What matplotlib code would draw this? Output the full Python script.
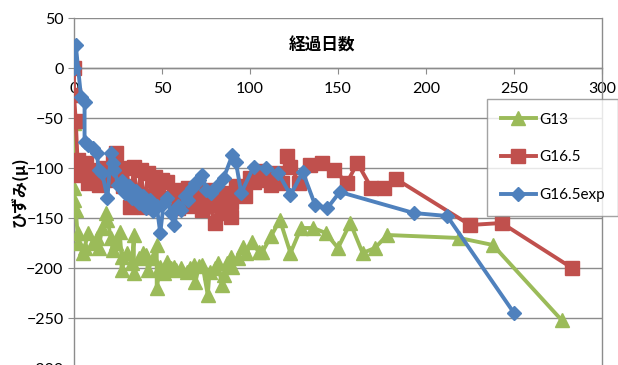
import matplotlib.pyplot as plt

# G13
g13_dias = [0, 0, 0, 1, 2, 2, 5, 6, 8, 11, 13, 14, 16, 18, 19, 21, 22, 24, 26, 27,
            27, 30, 33, 34, 34, 37, 39, 41, 42, 45, 47, 47, 49, 51, 53, 55, 57, 58, 61, 64,
            66, 68, 69, 71, 73, 76, 77, 80, 82, 84, 85, 87, 89, 90, 93, 96, 98, 101, 105, 107,
            112, 117, 123, 129, 136, 143, 150, 157, 164, 171, 178, 219, 238, 277]
g13_hizumi = [-55, -120, -132, -142, -165, -175, -185, -180, -165, -175, -170, -180, -160, -145, -152, -170, -182, -175, -164, -189,
              -202, -185, -195, -167, -205, -190, -185, -187, -202, -190, -177, -220, -199, -205, -194, -200, -199, -202, -200, -204,
              -200, -197, -214, -198, -197, -227, -204, -200, -195, -217, -207, -195, -189, -199, -190, -179, -185, -174, -184, -184,
              -168, -152, -185, -160, -160, -165, -180, -155, -185, -180, -167, -170, -177, -252]

# G16.5
g165_dias = [0, 0, 1, 2, 3, 5, 7, 8, 10, 12, 14, 16, 18, 20, 22, 24, 26, 28, 30, 32,
             34, 36, 38, 40, 42, 44, 46, 48, 50, 53, 55, 57, 59, 61, 63, 65, 67, 69, 71, 73,
             75, 77, 80, 82, 84, 86, 89, 89, 92, 95, 97, 100, 102, 104, 106, 109, 112, 115, 118, 121,
             123, 128, 134, 141, 148, 155, 161, 169, 176, 183, 225, 243, 283]
g165_hizumi = [0, -27, -53, -92, -107, -97, -95, -115, -108, -102, -117, -110, -100, -112, -92, -85, -108, -118, -100, -139,
               -99, -135, -102, -139, -105, -128, -109, -125, -112, -114, -130, -122, -140, -128, -135, -120, -138, -125, -132, -142,
               -122, -137, -155, -130, -145, -125, -149, -134, -118, -119, -128, -110, -114, -103, -112, -108, -117, -105, -115, -88,
               -99, -115, -97, -95, -102, -115, -95, -120, -120, -111, -157, -155, -200]

# G16.5exp
g165exp_dias = [0, 1, 4, 6, 6, 8, 11, 13, 14, 16, 19, 21, 22, 23, 25, 27, 29, 31, 33, 35,
                37, 39, 41, 43, 45, 47, 49, 51, 53, 55, 57, 59, 61, 63, 65, 67, 69, 71, 73, 75,
                78, 81, 85, 90, 92, 95, 102, 109, 116, 123, 130, 137, 144, 151, 193, 212, 250]
g165exp_hizumi = [0, 23, -29, -34, -74, -77, -80, -85, -102, -105, -130, -85, -95, -102, -117, -113, -125, -118, -130, -123,
                  -135, -128, -140, -132, -143, -138, -165, -135, -130, -145, -157, -138, -142, -128, -132, -120, -115, -112, -107, -122,
                  -125, -118, -110, -87, -94, -125, -99, -100, -105, -127, -104, -137, -140, -124, -145, -148, -245]

plt.rcParams['font.family'] = ['Lato', 'Noto Sans CJK JP', 'DejaVu Sans']

fig = plt.figure(figsize=(6.18, 3.65), dpi=100)
ax = fig.add_axes([74/618, -3/365, 528/618, 350/365])

ax.plot(g13_dias, g13_hizumi, color='#9BBB59', lw=2.8, marker='^', ms=9.5, label='G13', zorder=3)
ax.plot(g165_dias, g165_hizumi, color='#C0504D', lw=2.8, marker='s', ms=9.5, label='G16.5', zorder=4)
ax.plot(g165exp_dias, g165exp_hizumi, color='#4F81BD', lw=2.8, marker='D', ms=7.5, label='G16.5exp', zorder=5)

ax.set_xlim(0, 300)
ax.set_ylim(-300, 50)
ax.set_xticks(range(0, 301, 50))
ax.set_yticks(range(-300, 51, 50))
ax.yaxis.grid(True, color='#8c8c8c', lw=1)
ax.set_axisbelow(True)

# x軸は y=0 の位置に置く
ax.spines['bottom'].set_position(('data', 0))
ax.spines['top'].set_visible(False)
for s in ['bottom', 'left', 'right']:
    ax.spines[s].set_color('#8c8c8c')
    ax.spines[s].set_linewidth(1)
ax.tick_params(axis='both', colors='#8c8c8c', labelcolor='black', labelsize=11.5, length=4, direction='out')
ax.tick_params(axis='x', pad=6)

ax.text(0.47, 0.92, '経過日数', transform=ax.transAxes, fontsize=12, fontweight='bold',
        family=['Noto Sans CJK JP'], ha='center', va='center')
fig.text(20/618, 1 - 192/365, 'ひずみ(μ)', rotation=90, fontsize=11.5, fontweight='bold',
         family=['Noto Sans CJK JP'], ha='center', va='center')

leg = fig.legend(loc='upper left', bbox_to_anchor=(487/618, 1 - 99/365), fontsize=11,
                 frameon=True, fancybox=False, edgecolor='#8c8c8c', borderpad=0.9,
                 labelspacing=1.55, handlelength=2.3, handletextpad=0.2, borderaxespad=0)
leg.get_frame().set_linewidth(1)

fig.savefig('out.png', dpi=100)
